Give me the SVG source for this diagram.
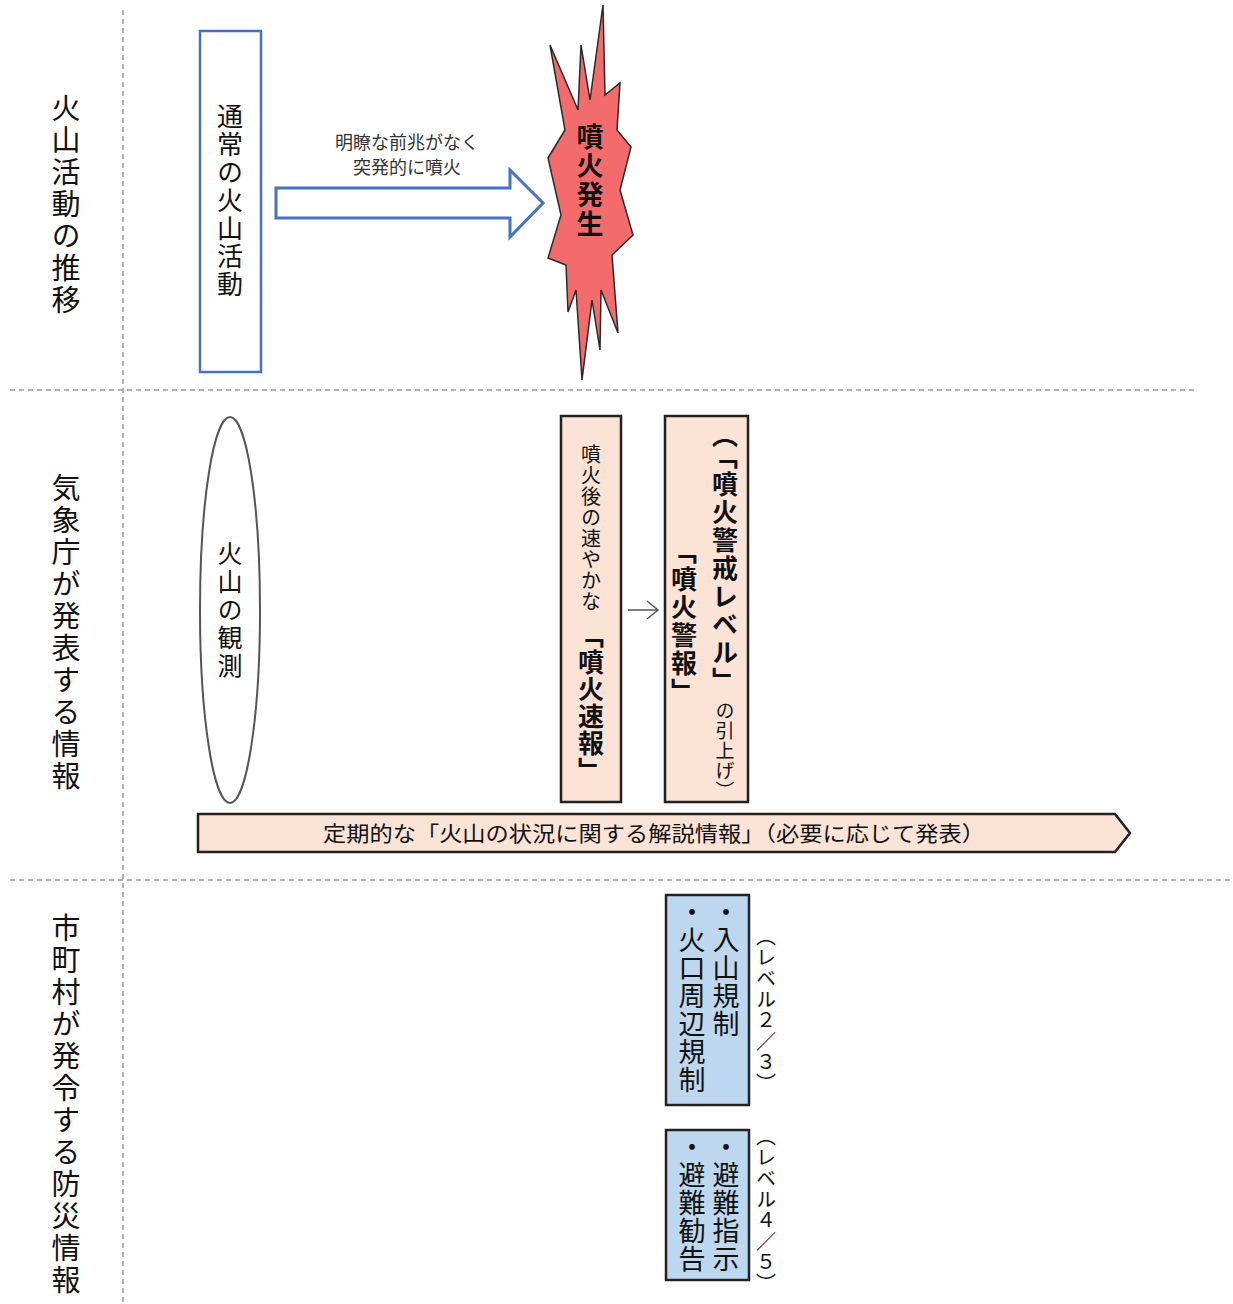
<svg xmlns="http://www.w3.org/2000/svg" width="1233" height="1304" viewBox="0 0 1233 1304">
<style>
text{font-family:"Noto Sans CJK JP","Noto Sans CJK SC",sans-serif;fill:#111}
.v{writing-mode:vertical-rl}
.sec{font-size:29px;letter-spacing:3px}
.dash{stroke:#9a9a9a;stroke-width:1.5;stroke-dasharray:5 4;fill:none}
.peach{fill:#FBE3D6;stroke:#222;stroke-width:2.5}
.blue{fill:#BDD7EE;stroke:#222;stroke-width:2.5}
.b{font-weight:bold}
</style>
<rect width="1233" height="1304" fill="#fff"/>
<g id="grid">
<line class="dash" x1="123" y1="10" x2="123" y2="1302"/>
<line class="dash" x1="10" y1="390" x2="1196" y2="390"/>
<line class="dash" x1="10" y1="880" x2="1233" y2="880"/>
</g>
<g id="lane-labels">
<text class="v sec" x="66" y="93">火山活動の推移</text>
<text class="v sec" x="66" y="473">気象庁が発表する情報</text>
<text class="v sec" x="66" y="913">市町村が発令する防災情報</text>
</g>
<g id="connectors">
<path d="M276,188 H510 V170 L543,203 L510,237 V218 H276 Z" fill="#fff" stroke="#4472C4" stroke-width="3" stroke-linejoin="miter"/>
<path d="M628,610 H657 M647,601 L658,610 L647,619" fill="none" stroke="#555" stroke-width="1.5"/>
</g>
<g id="label-sudden">
<text x="407" y="149" font-size="18" text-anchor="middle" style="fill:#333">明瞭な前兆がなく</text>
<text x="407" y="174" font-size="18" text-anchor="middle" style="fill:#333">突発的に噴火</text>
</g>
<g id="normal-activity">
<rect x="200" y="31" width="61" height="341" fill="#fff" stroke="#4472C4" stroke-width="2.5"/>
<text class="v" x="230" y="103" font-size="26" style="letter-spacing:2px">通常の火山活動</text>
</g>
<g id="eruption">
<polygon points="603,5 605,95 620,83 617,130 631,147 620,190 633,235 612,255 618,333 601,290 600,350 592,300 582,380 576,290 568,312 566,265 548,258 561,215 548,158 565,130 550,45 578,110 581,45 590,100" fill="#F46B6B" stroke="#2a2a2a" stroke-width="1.5" stroke-linejoin="miter"/>
<text class="v b" x="590" y="123" font-size="27" style="letter-spacing:2px">噴火発生</text>
</g>
<g id="observation">
<ellipse cx="230" cy="610" rx="30" ry="193" fill="#fff" stroke="#555" stroke-width="2"/>
<text class="v" x="230" y="541" font-size="25" style="letter-spacing:3px">火山の観測</text>
</g>
<g id="flash-report">
<rect class="peach" x="561" y="416" width="60" height="386"/>
<text class="v" x="591" y="444" font-size="20" style="letter-spacing:1px">噴火後の速やかな<tspan class="b" font-size="26" dy="10">「噴火速報」</tspan></text>
</g>
<g id="warning">
<rect class="peach" x="665" y="416" width="83" height="386"/>
<text class="v b" x="725" y="422" font-size="26" style="letter-spacing:2px">（<tspan dy="6">「噴火警戒レベル」</tspan><tspan font-size="19" font-weight="normal" dy="6" style="letter-spacing:1px">の引上げ）</tspan></text>
<text class="v b" x="684" y="538" font-size="26" style="letter-spacing:2px">「噴火警報」</text>
</g>
<g id="commentary">
<polygon class="peach" points="198,814 1115,814 1130,833 1115,852 198,852"/>
<text x="654" y="841" font-size="21" text-anchor="middle" textLength="662" lengthAdjust="spacingAndGlyphs">定期的な「火山の状況に関する解説情報」（必要に応じて発表）</text>
</g>
<g id="entry-restriction">
<rect class="blue" x="666" y="895" width="83" height="210"/>
<text class="v" x="726" y="898" font-size="27" style="letter-spacing:1px">・入山規制</text>
<text class="v" x="692" y="898" font-size="27" style="letter-spacing:1px">・火口周辺規制</text>
<text class="v" x="766" y="926" font-size="20" style="letter-spacing:1px">（レベル２／３）</text>
</g>
<g id="evacuation">
<rect class="blue" x="666" y="1130" width="83" height="150"/>
<text class="v" x="726" y="1133" font-size="27" style="letter-spacing:1px">・避難指示</text>
<text class="v" x="692" y="1133" font-size="27" style="letter-spacing:1px">・避難勧告</text>
<text class="v" x="766" y="1126" font-size="20" style="letter-spacing:1px">（レベル４／５）</text>
</g>
</svg>
